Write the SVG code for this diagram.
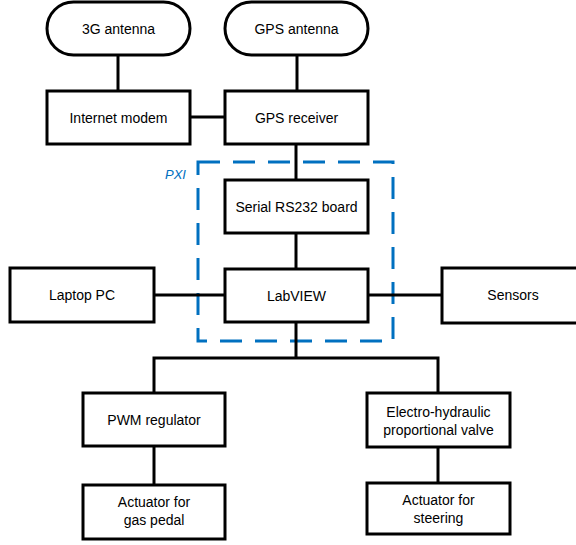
<svg xmlns="http://www.w3.org/2000/svg" width="576" height="545" viewBox="0 0 576 545">
<style>
.box{fill:#fff;stroke:#000;stroke-width:3}
.ln{stroke:#000;stroke-width:3;fill:none}
.t{font-family:"Liberation Sans",Arial,sans-serif;font-size:14px;fill:#000;text-anchor:middle}
.pxi{fill:none;stroke:#0070C0;stroke-width:3;stroke-dasharray:22 13}
.pxit{font-family:"Liberation Sans",Arial,sans-serif;font-size:13px;font-style:italic;fill:#0070C0}
</style>
<rect width="576" height="545" fill="#fff"/>
<g id="pxi-group">
<rect class="pxi" x="198" y="162" width="195" height="179"/>
<text class="pxit" x="165" y="179">PXI</text>
</g>
<g id="connectors">
<line class="ln" x1="118" y1="55" x2="118" y2="91"/>
<line class="ln" x1="297" y1="55" x2="297" y2="91"/>
<line class="ln" x1="190" y1="117" x2="225" y2="117"/>
<line class="ln" x1="296" y1="144" x2="296" y2="180"/>
<line class="ln" x1="296" y1="233" x2="296" y2="269"/>
<line class="ln" x1="154" y1="295" x2="225" y2="295"/>
<line class="ln" x1="368" y1="295" x2="442" y2="295"/>
<polyline class="ln" points="296,322 296,358"/>
<polyline class="ln" points="154,393 154,358 438,358 438,393"/>
<line class="ln" x1="154" y1="446" x2="154" y2="485"/>
<line class="ln" x1="438" y1="447" x2="438" y2="483"/>
</g>
<g id="n-3g-antenna">
<rect class="box" x="47" y="2" width="143" height="53" rx="26.5"/>
<text class="t" x="118.5" y="34">3G antenna</text>
</g>
<g id="n-gps-antenna">
<rect class="box" x="225" y="2" width="143" height="53" rx="26.5"/>
<text class="t" x="296.5" y="34">GPS antenna</text>
</g>
<g id="n-internet-modem">
<rect class="box" x="47" y="91" width="143" height="53"/>
<text class="t" x="118.5" y="123">Internet modem</text>
</g>
<g id="n-gps-receiver">
<rect class="box" x="225" y="91" width="143" height="53"/>
<text class="t" x="296.5" y="123">GPS receiver</text>
</g>
<g id="n-serial">
<rect class="box" x="225" y="180" width="143" height="53"/>
<text class="t" x="296.5" y="212">Serial RS232 board</text>
</g>
<g id="n-labview">
<rect class="box" x="225" y="269" width="143" height="53"/>
<text class="t" x="296.5" y="301">LabVIEW</text>
</g>
<g id="n-laptop">
<rect class="box" x="10" y="268" width="144" height="54"/>
<text class="t" x="82" y="300">Laptop PC</text>
</g>
<g id="n-sensors">
<rect class="box" x="442" y="268" width="143" height="55"/>
<text class="t" x="513" y="300">Sensors</text>
</g>
<g id="n-pwm">
<rect class="box" x="83" y="393" width="142" height="53"/>
<text class="t" x="154" y="425">PWM regulator</text>
</g>
<g id="n-valve">
<rect class="box" x="367" y="393" width="143" height="54"/>
<text class="t" x="438.5" y="417">Electro-hydraulic</text>
<text class="t" x="438.5" y="435">proportional valve</text>
</g>
<g id="n-act-gas">
<rect class="box" x="83" y="485" width="142" height="54"/>
<text class="t" x="154" y="507">Actuator for</text>
<text class="t" x="154" y="525">gas pedal</text>
</g>
<g id="n-act-steer">
<rect class="box" x="367" y="483" width="143" height="51"/>
<text class="t" x="438.5" y="505">Actuator for</text>
<text class="t" x="438.5" y="523">steering</text>
</g>
</svg>
